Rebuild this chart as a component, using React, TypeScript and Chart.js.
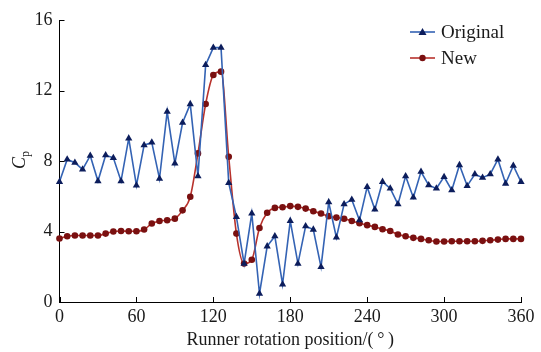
import React, { useEffect, useRef } from 'react';
import { Chart, registerables } from 'chart.js';

Chart.register(...registerables);

const angles = [
  0, 6, 12, 18, 24, 30, 36, 42, 48, 54, 60, 66, 72, 78, 84, 90, 96, 102, 108, 114, 120,
  126, 132, 138, 144, 150, 156, 162, 168, 174, 180, 186, 192, 198, 204, 210, 216, 222, 228, 234, 240,
  246, 252, 258, 264, 270, 276, 282, 288, 294, 300, 306, 312, 318, 324, 330, 336, 342, 348, 354, 360,
];

const original = [
  6.82, 8.09, 7.9, 7.52, 8.3, 6.86, 8.33, 8.18, 6.86, 9.28, 6.61, 8.9, 9.05, 7.0, 10.8, 7.86, 10.17, 11.23, 7.14, 13.45, 14.43,
  14.43, 6.76, 4.83, 2.18, 5.02, 0.47, 3.16, 3.73, 1.0, 4.6, 2.18, 4.3, 4.11, 1.99, 5.66, 3.66, 5.55, 5.81, 4.64, 6.53,
  5.25, 6.82, 6.44, 5.55, 7.14, 5.93, 7.39, 6.63, 6.44, 7.1, 6.34, 7.77, 6.59, 7.25, 7.05, 7.25, 8.09, 6.72, 7.73, 6.82,
];

const newDesign = [
  3.6, 3.73, 3.77, 3.77, 3.77, 3.77, 3.88, 4.0, 4.03, 4.01, 4.01, 4.11, 4.45, 4.6, 4.64, 4.73, 5.2, 5.97, 8.43, 11.23, 12.88,
  13.07, 8.24, 3.88, 2.18, 2.4, 4.2, 5.06, 5.34, 5.38, 5.44, 5.4, 5.3, 5.15, 5.02, 4.87, 4.79, 4.72, 4.6, 4.47, 4.36,
  4.26, 4.13, 4.03, 3.83, 3.73, 3.64, 3.58, 3.5, 3.43, 3.43, 3.45, 3.45, 3.45, 3.45, 3.47, 3.5, 3.54, 3.58, 3.58, 3.58,
];

const seriesNames = ['Original', 'New'];
const xTicks = [0, 60, 120, 180, 240, 300, 360];
const yTicks = [0, 4, 8, 12, 16];
const xTitle = 'Runner rotation position/(\u2009°\u2009)';

const SERIF = "'Liberation Serif', 'Times New Roman', serif";
const origLine = '#3463b4';
const origMark = '#0c1d5c';
const newLine = '#b8322c';
const newMark = '#7a1010';

const decorPlugin = {
  id: 'decor',
  afterDraw(chart: any) {
    const ctx = chart.ctx as CanvasRenderingContext2D;
    const { left, bottom } = chart.chartArea;
    const xs = chart.scales.x;
    const ys = chart.scales.y;
    ctx.save();
    ctx.strokeStyle = '#000';
    ctx.lineWidth = 1;
    ctx.beginPath();
    xTicks.forEach((v) => {
      const x = Math.round(xs.getPixelForValue(v)) + 0.5;
      ctx.moveTo(x, bottom);
      ctx.lineTo(x, bottom - 5);
    });
    yTicks.forEach((v) => {
      const y = Math.round(ys.getPixelForValue(v)) + 0.5;
      ctx.moveTo(left, y);
      ctx.lineTo(left + 5, y);
    });
    ctx.stroke();

    // legend
    const entries = [
      { name: seriesNames[0], line: origLine, mark: origMark, style: 'triangle', y: 32 },
      { name: seriesNames[1], line: newLine, mark: newMark, style: 'circle', y: 58 },
    ];
    entries.forEach((e) => {
      ctx.strokeStyle = e.line;
      ctx.lineWidth = 1.6;
      ctx.beginPath();
      ctx.moveTo(410, e.y);
      ctx.lineTo(435, e.y);
      ctx.stroke();
      ctx.fillStyle = e.mark;
      ctx.beginPath();
      if (e.style === 'triangle') {
        ctx.moveTo(422.5, e.y - 4);
        ctx.lineTo(426.5, e.y + 3);
        ctx.lineTo(418.5, e.y + 3);
        ctx.closePath();
      } else {
        ctx.arc(422.5, e.y, 3.2, 0, Math.PI * 2);
      }
      ctx.fill();
      ctx.fillStyle = '#1a1a1a';
      ctx.font = `19px ${SERIF}`;
      ctx.textAlign = 'left';
      ctx.textBaseline = 'middle';
      ctx.fillText(e.name, 441, e.y + 1);
    });

    // y axis title C_p
    ctx.save();
    ctx.translate(25, 163);
    ctx.rotate(-Math.PI / 2);
    ctx.fillStyle = '#1a1a1a';
    ctx.textAlign = 'left';
    ctx.textBaseline = 'alphabetic';
    ctx.font = `italic 18px ${SERIF}`;
    ctx.fillText('C', -6, 0);
    const cw = ctx.measureText('C').width;
    ctx.font = `12px ${SERIF}`;
    ctx.fillText('p', -6 + cw, 4);
    ctx.restore();

    ctx.restore();
  },
};

export default function App() {
  const ref = useRef<HTMLCanvasElement | null>(null);

  useEffect(() => {
    document.body.style.margin = '0';
    const canvas = ref.current;
    if (!canvas) return;
    const toPoints = (vals: number[]) => angles.map((a, i) => ({ x: a, y: vals[i] }));
    const chart = new Chart(canvas, {
      type: 'line',
      data: {
        datasets: [
          {
            label: seriesNames[0],
            data: toPoints(original),
            borderColor: origLine,
            backgroundColor: origMark,
            borderWidth: 1.6,
            pointStyle: 'triangle',
            pointRadius: 4.2,
            pointBorderWidth: 0,
            pointBackgroundColor: origMark,
            tension: 0,
            clip: false,
          } as any,
          {
            label: seriesNames[1],
            data: toPoints(newDesign),
            borderColor: newLine,
            backgroundColor: newMark,
            borderWidth: 1.6,
            pointStyle: 'circle',
            pointRadius: 3.3,
            pointBorderWidth: 0,
            pointBackgroundColor: newMark,
            cubicInterpolationMode: 'monotone',
            clip: false,
          } as any,
        ],
      },
      options: {
        responsive: false,
        animation: false,
        layout: { padding: { left: 0, right: 20, top: 20, bottom: 0 } },
        plugins: { legend: { display: false }, tooltip: { enabled: false } },
        scales: {
          x: {
            type: 'linear',
            min: 0,
            max: 360,
            afterFit: (s: any) => {
              s.height = 50;
            },
            afterBuildTicks: (s: any) => {
              s.ticks = xTicks.map((v) => ({ value: v }));
            },
            grid: { display: false, drawTicks: false },
            border: { display: true, color: '#000', width: 1 },
            ticks: {
              font: { family: SERIF, size: 18 },
              color: '#1a1a1a',
              padding: 4,
              maxRotation: 0,
              autoSkip: false,
            },
            title: {
              display: true,
              text: xTitle,
              font: { family: SERIF, size: 18 },
              color: '#1a1a1a',
              padding: { top: 0, bottom: 1 },
            },
          },
          y: {
            min: 0,
            max: 16,
            afterFit: (s: any) => {
              s.width = 59.5;
            },
            afterBuildTicks: (s: any) => {
              s.ticks = yTicks.map((v) => ({ value: v }));
            },
            grid: { display: false, drawTicks: false },
            border: { display: true, color: '#000', width: 1 },
            ticks: {
              font: { family: SERIF, size: 18 },
              color: '#1a1a1a',
              padding: 7,
            },
          },
        },
      },
      plugins: [decorPlugin],
    } as any);
    return () => chart.destroy();
  }, []);

  return (
    <div style={{ width: 541, height: 352 }}>
      <canvas ref={ref} width={541} height={352} style={{ display: 'block' }} />
    </div>
  );
}
